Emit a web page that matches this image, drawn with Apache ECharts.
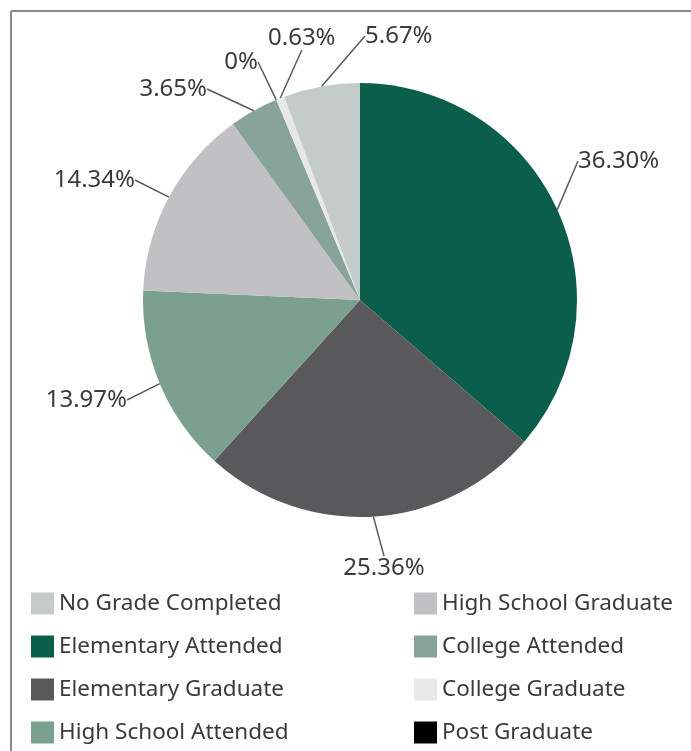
<!DOCTYPE html>
<html>
<head>
<meta charset="utf-8">
<script src="https://cdn.jsdelivr.net/npm/echarts@6/dist/echarts.min.js"></script>
<style>
  html, body { margin: 0; padding: 0; background: #fff; }
  #chart { width: 691px; height: 751px; }
</style>
</head>
<body>
<div id="chart"></div>
<script>
// slices, clockwise from 12 o'clock
const sliceNames = ['Elementary Attended', 'Elementary Graduate', 'High School Attended', 'High School Graduate',
  'College Attended', 'Post Graduate', 'College Graduate', 'No Grade Completed']
const sliceValues = [36.30, 25.36, 13.97, 14.34, 3.65, 0, 0.63, 5.67]
const sliceColors = ['#0b5e4b', '#59595b', '#7ba08f', '#c1c1c3', '#88a49a', '#000000', '#e8e8e8', '#c3ccc8']

// legend columns
const legendLeft = ['No Grade Completed', 'Elementary Attended', 'Elementary Graduate', 'High School Attended']
const legendRight = ['High School Graduate', 'College Attended', 'College Graduate', 'Post Graduate']

// where each data label sits (same order as the slices), Excel-style spread
const labelSpots = [
  { x: 578, y: 161, align: 'left' },
  { x: 384, y: 568, align: 'center' },
  { x: 127, y: 400, align: 'right' },
  { x: 135, y: 180, align: 'right' },
  { x: 207, y: 89, align: 'right' },
  { x: 258, y: 62, align: 'right' },
  { x: 268, y: 38, align: 'left' },
  { x: 365, y: 36, align: 'left' }
]

const chart = echarts.init(document.getElementById('chart'))

const legendBase = {
  orient: 'vertical',
  top: 592,
  height: 200,
  padding: 0,
  itemWidth: 23,
  itemHeight: 22,
  itemGap: 20,
  icon: 'rect',
  selectedMode: false,
  textStyle: { fontFamily: 'Noto Sans', fontSize: 22.5, color: '#3a3a3a' }
}

chart.setOption({
  animation: false,
  color: sliceColors,
  graphic: [
    { type: 'line', shape: { x1: 11, y1: 11, x2: 691, y2: 11 }, style: { stroke: '#8a8a8a', lineWidth: 2 } },
    { type: 'line', shape: { x1: 11, y1: 11, x2: 11, y2: 751 }, style: { stroke: '#8a8a8a', lineWidth: 2 } }
  ],
  legend: [
    Object.assign({}, legendBase, { left: 31, data: legendLeft }),
    Object.assign({}, legendBase, { left: 414, data: legendRight })
  ],
  series: [{
    type: 'pie',
    center: [360, 300],
    radius: 217,
    startAngle: 90,
    clockwise: true,
    avoidLabelOverlap: false,
    label: {
      show: true,
      fontFamily: 'Noto Sans',
      fontSize: 24,
      color: '#3a3a3a',
      formatter: p => (p.value === 0 ? '0' : p.value.toFixed(2)) + '%'
    },
    labelLine: {
      show: true,
      length: 30,
      length2: 0,
      lineStyle: { color: '#5a5a5a', width: 1.5 }
    },
    labelLayout: p => Object.assign({ verticalAlign: 'middle' }, labelSpots[p.dataIndex]),
    data: sliceNames.map((n, i) => ({ name: n, value: sliceValues[i] }))
  }]
})
</script>
</body>
</html>
